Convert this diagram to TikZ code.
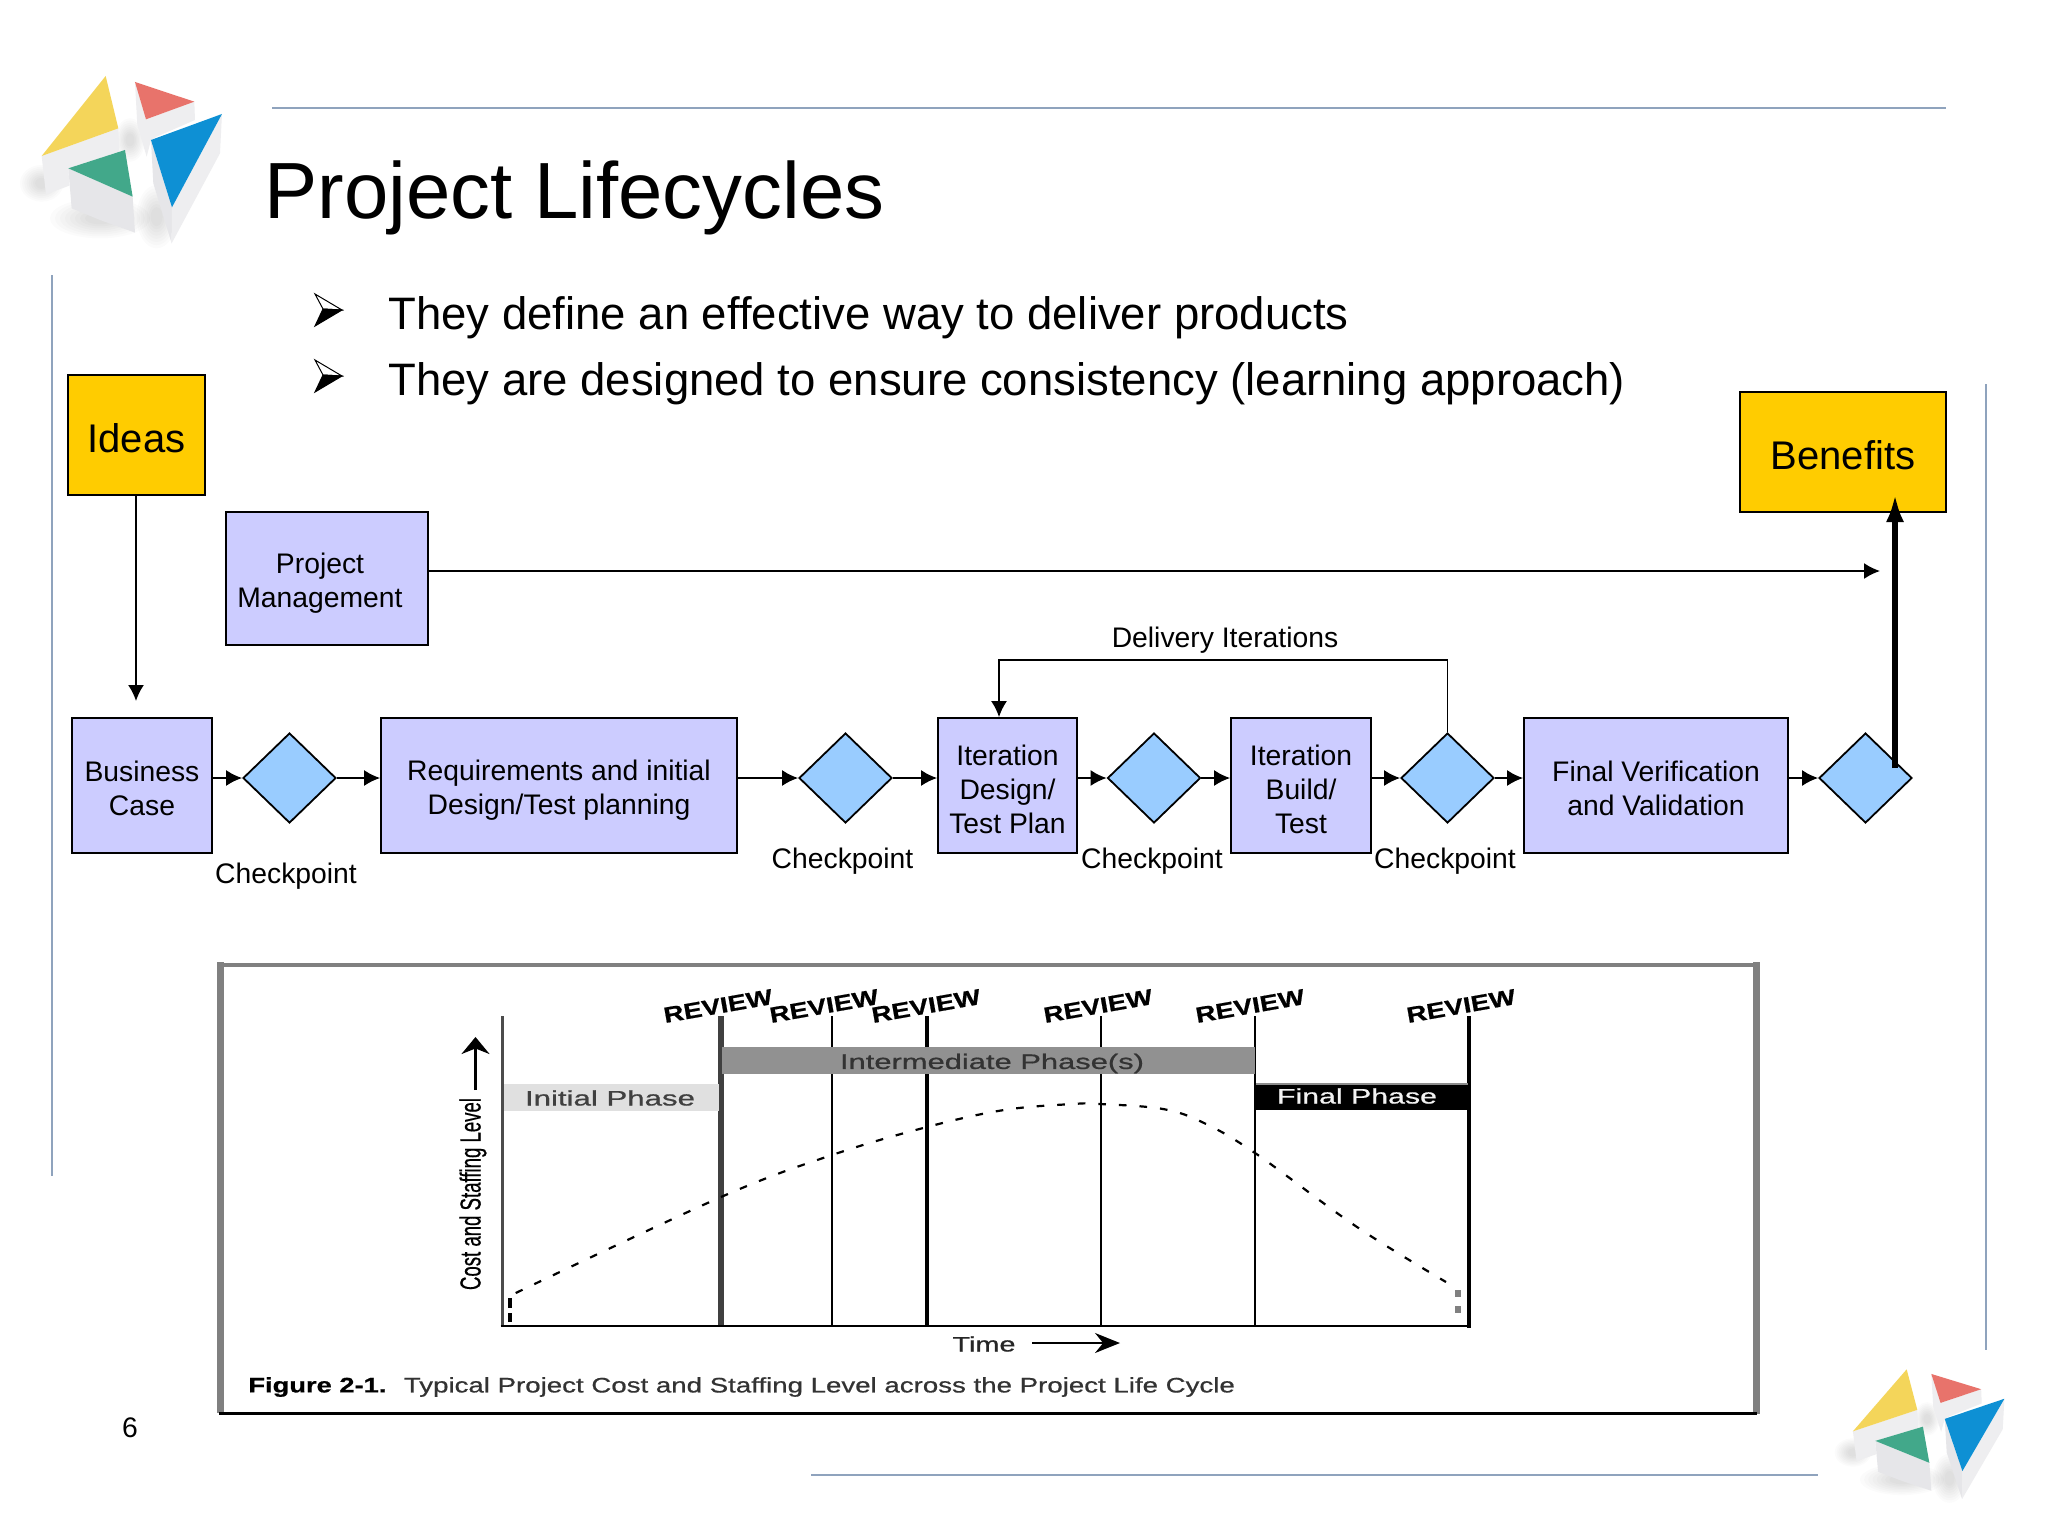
\documentclass[tikz,border=0pt]{standalone}
\usepackage{fontspec}
\usepackage{graphicx}
\setmainfont{Liberation Sans}
\newfontfamily\figfont[FakeBold=0.6]{Liberation Sans}
\usetikzlibrary{shapes.geometric,arrows.meta}
\definecolor{slideline}{HTML}{8FA3BD}
\definecolor{boxlav}{HTML}{CCCCFF}
\definecolor{diablue}{HTML}{99CCFF}
\definecolor{ideagold}{HTML}{FFCC00}
\definecolor{logoY}{HTML}{F4D55A}
\definecolor{logoR}{HTML}{E8736B}
\definecolor{logoB}{HTML}{0E90D4}
\definecolor{logoG}{HTML}{42A88A}
\definecolor{sideA}{HTML}{EEEEF0}
\definecolor{sideB}{HTML}{E6E6E9}
\newcommand{\fitw}[3]{\resizebox{#1}{\height}{\fontsize{#2}{#2}\selectfont\figfont #3}}
\newcommand{\dn}[1]{\rule{0pt}{#1pt}}
\newcommand{\softspot}[4]{%
  \foreach \f in {1,.9,.8,.7,.6,.5,.4,.3}{
    \fill[black,opacity=.016] (#1,#2) ellipse [x radius=\f*#3,y radius=\f*#4];
  }}
\newcommand{\drawlogo}{%
  \softspot{125}{430}{65}{55}
  \softspot{300}{535}{150}{60}
  \softspot{470}{530}{60}{95}
  \softspot{390}{300}{45}{65}
  \fill[sideA] (125,348)--(355,265)--(358,335)--(205,385)--(208,437)--(138,463)--cycle;
  \fill[sideB] (205,385)--(398,470)--(405,578)--(300,540)--(215,505)--cycle;
  \fill[sideA] (405,126)--(438,238)--(583,185)--(585,240)--(470,290)--(453,300)--(440,350)--(412,255)--cycle;
  \fill[sideB] (453,300)--(516,502)--(515,610)--(460,430)--cycle;
  \fill[sideA] (516,502)--(666,222)--(660,340)--(515,610)--cycle;
  \fill[logoY] (317,108)--(355,265)--(125,348)--cycle;
  \fill[logoR] (405,126)--(583,185)--(438,238)--cycle;
  \fill[logoB] (666,222)--(453,300)--(516,502)--cycle;
  \fill[logoG] (375,330)--(205,385)--(398,470)--cycle;
}
\newcommand{\bulletmark}[1]{%
  \begin{scope}[shift={(315,#1)}]
    \filldraw[fill=white,draw=black,line width=.5pt,line join=miter] (0,-16)--(27,0)--(8,-1)--cycle;
    \filldraw[fill=black,draw=black,line width=.5pt,line join=miter] (0,16)--(27,0)--(8,-1)--cycle;
  \end{scope}}
\tikzset{
  x=0.5pt,y=-0.5pt,
  stagebox/.style={draw=black,fill=boxlav,line width=.9pt,inner sep=0pt,align=center,font=\fontsize{14.15}{17}\selectfont},
  goldbox/.style={draw=black,fill=ideagold,line width=.9pt,inner sep=0pt,align=center,font=\fontsize{20}{24}\selectfont},
  gate/.style={diamond,draw=black,fill=diablue,line width=.9pt,inner sep=0pt,minimum width=46.5pt,minimum height=45pt},
  flow/.style={-{Latex[length=8pt,width=8pt]},line width=.9pt,draw=black},
  caplabel/.style={inner sep=0pt,font=\fontsize{14.15}{17}\selectfont},
  ruleline/.style={draw=slideline,line width=1pt},
  rv/.style={inner sep=0pt,rotate=10},
  bandtext/.style={inner sep=0pt},
}
\begin{document}
\begin{tikzpicture}
\useasboundingbox (0,0) rectangle (2048,1536);
\fill[white] (0,0) rectangle (2048,1536);

% slide rules
\draw[ruleline] (272,108)--(1946,108);
\draw[ruleline] (52,275)--(52,1176);
\draw[ruleline] (1986,384)--(1986,1350);
\draw[ruleline] (811,1475)--(1818,1475);

% logos
\begin{scope}[shift={(0,40)},xscale=.3333,yscale=.3333] \drawlogo \end{scope}
\begin{scope}[shift={(1817.9,1341.4)},xscale=.28,yscale=.2583] \drawlogo \end{scope}

% title and bullets
\node[anchor=base west,inner sep=0pt,font=\fontsize{39.85}{44}\selectfont] (title) at (264,218) {Project Lifecycles};
\bulletmark{310}
\bulletmark{376}
\node[anchor=base west,inner sep=0pt,font=\fontsize{22.75}{26}\selectfont] (b1) at (388,329) {They define an effective way to deliver products};
\node[anchor=base west,inner sep=0pt,font=\fontsize{22.75}{26}\selectfont] (b2) at (388,395) {They are designed to ensure consistency (learning approach)};

% gold boxes
\node[goldbox,minimum width=68.5pt,minimum height=60pt] (ideas) at (136.5,435) {\dn{17.2}Ideas};
\node[goldbox,minimum width=103pt,minimum height=60pt] (benefits) at (1843,452) {\dn{17.2}Benefits};

% stages
\node[stagebox,minimum width=101pt,minimum height=66.5pt] (pm) at (327,578.5) {\dn{15.4}Project\hspace*{7pt}\\Management\hspace*{7pt}};
\node[stagebox,minimum width=70pt,minimum height=67.5pt] (bc) at (142,785.5) {\dn{12.8}Business\\Case};
\node[gate] (d1) at (289.5,778) {};
\node[stagebox,minimum width=178pt,minimum height=67.5pt] (req) at (559,785.5) {\dn{15.4}Requirements and initial\\Design/Test planning};
\node[gate] (d2) at (845.5,778) {};
\node[stagebox,minimum width=69.5pt,minimum height=67.5pt] (itd) at (1007.5,785.5) {\dn{14.2}Iteration\\Design/\\Test Plan};
\node[gate] (d3) at (1154,778) {};
\node[stagebox,minimum width=70pt,minimum height=67.5pt] (itb) at (1301,785.5) {\dn{14.2}Iteration\\Build/\\Test};
\node[gate] (d4) at (1447.5,778) {};
\node[stagebox,minimum width=132pt,minimum height=67.5pt] (fin) at (1656,785.5) {\dn{12.8}Final Verification\\and Validation};
\node[gate] (d5) at (1865.5,778) {};

% labels
\node[caplabel] (c1) at (286,876.5) {Checkpoint};
\node[caplabel] (c2) at (842.5,861) {Checkpoint};
\node[caplabel] (c3) at (1152,861) {Checkpoint};
\node[caplabel] (c4) at (1445,861) {Checkpoint};
\node[caplabel] (di) at (1225,640) {Delivery Iterations};
\node[caplabel] (pageno) at (130,1428) {6};

% connectors
\coordinate (ideasend) at (136,701);
\coordinate (pmend) at (1880,571);
\coordinate (thickstart) at (1895,768);
\coordinate (thickend) at (1895,494);
\draw[flow] (ideas.south -| ideasend) -- (ideasend);
\draw[flow] (pm.east |- pmend) -- (pmend);
\draw[flow] (bc.east |- d1.west) -- (d1.west);
\draw[flow] (d1.east) -- (d1.east -| req.west);
\draw[flow] (req.east |- d2.west) -- (d2.west);
\draw[flow] (d2.east) -- (d2.east -| itd.west);
\draw[flow] (itd.east |- d3.west) -- (d3.west);
\draw[flow] (d3.east) -- (d3.east -| itb.west);
\draw[flow] (itb.east |- d4.west) -- (d4.west);
\draw[flow] (d4.east) -- (d4.east -| fin.west);
\draw[flow] (fin.east |- d5.west) -- (d5.west);
\coordinate (loopup) at (d4.north |- 0,660);
\coordinate (loopleft) at (999,660);
\draw[flow] (d4.north) -- (loopup) -- (loopleft) -- (loopleft |- itd.north);
\draw[-{Latex[length=14pt,width=9pt]},line width=3pt,draw=black] (thickstart) -- (thickend);

% figure frame
\draw[draw=black!50,line width=3.5pt] (220.5,962) -- (220.5,1413);
\draw[draw=black!50,line width=3.5pt] (1756,962) -- (1756,1414);
\draw[draw=black!50,line width=2pt] (218,964.5) -- (1759,964.5);
\draw[draw=black,line width=1.5pt] (219,1413) -- (1757,1413);

% axes and review lines
\draw[black!70,line width=1.6pt] (502.5,1016) -- (502.5,1326);
\draw[black!75,line width=2.6pt] (721,1016) -- (721,1326);
\draw[black,line width=1.4pt] (832,1016) -- (832,1326);
\draw[black,line width=2.2pt] (927,1016) -- (927,1326);
\draw[black,line width=1pt] (1100.5,1016) -- (1100.5,1326);
\draw[black,line width=1pt] (1255,1016) -- (1255,1326);
\draw[black,line width=2pt] (1469,1016) -- (1469,1327.5);
\draw[black,line width=1.4pt] (500.5,1326) -- (1470.5,1326);

% bands
\fill[black!12] (504,1084) rectangle (719,1111);
\fill[black!43] (722,1047) rectangle (1255,1074);
\fill[black] (1255.5,1085) rectangle (1468,1110);
\fill[black!45] (1255.5,1083) rectangle (1468,1085);

% band texts
\node[bandtext,text=black!75] (ip) at (610,1098) {\fitw{85pt}{10.5}{Initial Phase}};
\node[bandtext,text=black!80] (mp) at (992,1063.5) {\fitw{152pt}{10.5}{Intermediate Phase(s)}};
\node[bandtext,text=black!5] (fp) at (1357,1096) {\fitw{80pt}{10.5}{Final Phase}};

% reviews
\foreach \n/\cx in {r1/718,r2/824,r3/926,r4/1098,r5/1250,r6/1461}{
  \node[rv] (\n) at (\cx,1006) {\fitw{55pt}{11}{\bfseries REVIEW}};
}

% curve
\draw[black,line width=2pt,dash pattern=on 4.7pt off 2.5pt] (510,1322) -- (510,1297);
\draw[black,line width=1.1pt,dash pattern=on 3.8pt off 6.5pt] plot[smooth,tension=.6] coordinates {(515.7,1293) (721,1197) (832,1155) (927,1127) (1004,1110) (1072.6,1104) (1100,1104) (1163,1109) (1204,1123) (1255,1153) (1357,1227) (1446,1282)};
\draw[black!50,line width=2.8pt,dash pattern=on 3.5pt off 4.5pt] (1458,1290) -- (1458,1313);

% y label & arrow
\node[inner sep=0pt,rotate=90] (ylab) at (473,1194) {\resizebox{96pt}{10.5pt}{\fontsize{9.3}{9.3}\selectfont\figfont Cost and Staffing Level}};
\coordinate (ytip) at (475.5,1037);
\coordinate (ytail) at (475.5,1090);
\draw[-{Stealth[length=8.5pt,width=14pt]},line width=1.3pt] (ytail) -- (ytip);
\node[bandtext,text=black!85] (tm) at (984,1344) {\fitw{31.5pt}{10.5}{Time}};
\coordinate (ttail) at (1032,1343);
\coordinate (ttip) at (1120,1343);
\draw[-{Stealth[length=12.5pt,width=10pt]},line width=.7pt] (ttail) -- (ttip);

% caption
\node[anchor=west,bandtext] (f1) at (248,1387) {\fitw{69pt}{10.5}{\bfseries Figure 2-1.}};
\node[anchor=west,bandtext,text=black!80] (f2) at (403.5,1387) {\fitw{415.5pt}{10.5}{Typical Project Cost and Staffing Level across the Project Life Cycle}};
\end{tikzpicture}
\end{document}
